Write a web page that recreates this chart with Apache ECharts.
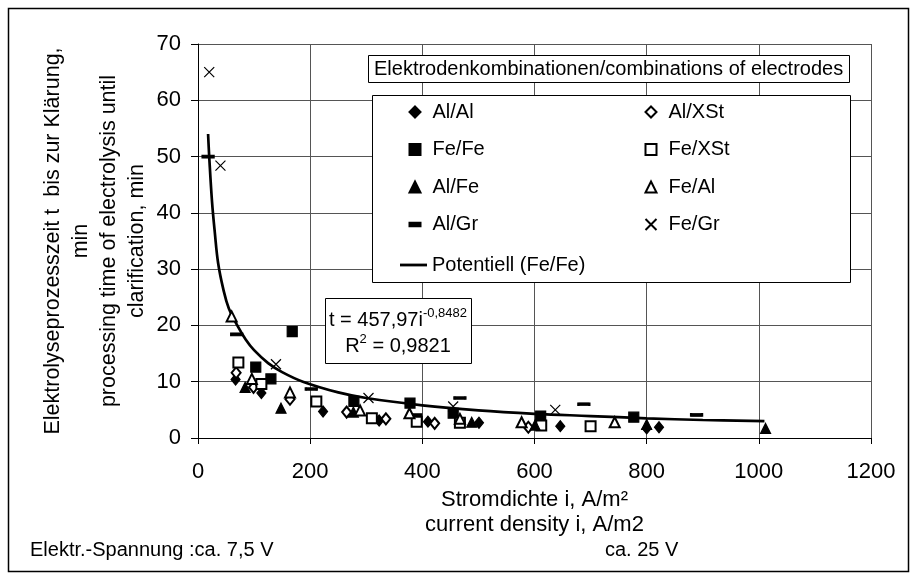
<!DOCTYPE html>
<html>
<head>
<meta charset="utf-8">
<script src="https://cdn.jsdelivr.net/npm/echarts@6/dist/echarts.min.js"></script>
<style>
html, body { margin: 0; padding: 0; background: #fff; }
#main { width: 917px; height: 579px; }
</style>
</head>
<body>
<div id="main"></div>
<script>
// Achsen
var xTicks = [0, 200, 400, 600, 800, 1000, 1200];
var yTicks = [0, 10, 20, 30, 40, 50, 60, 70];

// Messpunkte [Stromdichte, Zeit]
var alAl  = [[67, 10.4], [113, 8.0], [223, 4.7], [323, 3.1], [410, 2.9], [501, 2.7], [646, 2.1], [800, 1.7], [822, 1.9]];
var alXSt = [[68, 11.6], [99, 9.0], [164, 6.9], [265, 4.6], [335, 3.4], [422, 2.6], [589, 1.9]];
var feFe  = [[103, 12.6], [130, 10.5], [168, 18.9], [278, 6.5], [378, 6.2], [390, 3.4], [455, 4.4], [611, 3.9], [777, 3.7]];
var feXSt = [[72, 13.4], [113, 9.6], [211, 6.5], [310, 3.5], [390, 2.9], [467, 2.7], [612, 2.2], [700, 2.1]];
var alFe  = [[84, 9.0], [148, 5.3], [277, 4.6], [488, 2.8], [601, 2.3], [800, 2.4], [1012, 1.7]];
var feAl  = [[60, 21.6], [96, 10.5], [164, 8.1], [289, 4.9], [377, 4.4], [467, 3.4], [577, 2.8], [743, 2.8]];
var alGr  = [[18, 50], [69, 18.4], [202, 8.7], [467, 7.1], [688, 6.0], [889, 4.1]];
var feGr  = [[20, 65], [40, 48.4], [139, 13.1], [304, 7.1], [455, 5.6], [637, 5.0]];
// Trendlinie Potentiell (Fe/Fe)
var trendFeFe = [[18, 54], [20, 50], [25, 42], [30, 36.5], [36, 31], [45, 26.5], [55, 23], [70, 20],
    [85, 17.5], [100, 15.6], [125, 13.3], [150, 11.7], [187, 10], [250, 8.1], [300, 7.1], [400, 5.8],
    [500, 4.9], [600, 4.3], [700, 3.9], [800, 3.5], [900, 3.2], [1010, 3.0]];

var font = 'Liberation Sans, Arial, sans-serif';
var dashPath = 'path://M0,0L11,0L11,3L0,3Z';
var dashIcon = 'path://M0,0M0,3.5L10,3.5L10,6.5L0,6.5ZM10,10';
var lineIcon = 'path://M0,0M0,3.6L27,3.6L27,6.4L0,6.4ZM27,10';
var crossPath = 'path://M0,0L10,10M10,0L0,10';

function punkte(name, data, symbol, size) {
    return {
        name: name,
        type: 'scatter',
        data: data,
        symbol: symbol,
        symbolSize: size || 10,
        symbolKeepAspect: false,
        itemStyle: { color: '#000', borderColor: '#000', borderWidth: 1.2, opacity: 1 },
        emphasis: { disabled: true }
    };
}

function spalte(left, top, data) {
    return {
        orient: 'vertical',
        left: left,
        top: top,
        padding: 0,
        itemWidth: 11,
        itemHeight: 11,
        itemGap: 17.5,
        selectedMode: false,
        textStyle: { fontFamily: font, fontSize: 20, color: '#000', lineHeight: 20, padding: [0, 0, 0, 7] },
        data: data
    };
}

var myChart = echarts.init(document.getElementById('main'));
var option = {
    backgroundColor: '#fff',
    animation: false,
    title: {
        text: 'Elektrodenkombinationen/combinations of electrodes',
        left: 368,
        top: 55,
        padding: [4, 7, 4, 6],
        borderColor: '#000',
        borderWidth: 1,
        backgroundColor: '#fff',
        textStyle: { fontFamily: font, fontSize: 20, fontWeight: 'normal', color: '#000' }
    },
    legend: [
        spalte(408.5, 102, ['Al/Al', 'Fe/Fe', 'Al/Fe', { name: 'Al/Gr', icon: dashIcon }]),
        spalte(644.5, 102, ['Al/XSt', 'Fe/XSt', 'Fe/Al', 'Fe/Gr']),
        {
            left: 400, top: 255, padding: 0, itemWidth: 27, itemHeight: 10,
            selectedMode: false,
            textStyle: { fontFamily: font, fontSize: 20, color: '#000', lineHeight: 20 },
            data: [{ name: 'Potentiell (Fe/Fe)', icon: lineIcon, itemStyle: { color: '#000', borderWidth: 0 } }]
        }
    ],
    grid: { left: 198, right: 46, top: 44, bottom: 141, containLabel: false },
    xAxis: {
        type: 'value',
        min: xTicks[0],
        max: xTicks[xTicks.length - 1],
        interval: 200,
        name: 'Stromdichte i, A/m²\ncurrent density i, A/m2',
        nameLocation: 'middle',
        nameGap: 45,
        nameTextStyle: { fontFamily: font, fontSize: 22, color: '#000', lineHeight: 24.5 },
        axisLine: { lineStyle: { color: '#000', width: 1 } },
        axisTick: { show: true, length: 6, lineStyle: { color: '#000' } },
        axisLabel: {
            fontFamily: font, fontSize: 22, color: '#000', margin: 23,
            formatter: function (v) { return String(v); }
        },
        splitLine: { show: true, lineStyle: { color: '#555', width: 1 } }
    },
    yAxis: {
        type: 'value',
        min: yTicks[0],
        max: yTicks[yTicks.length - 1],
        interval: 10,
        name: 'Elektrolyseprozesszeit t  bis zur Klärung,\nmin\nprocessing time of electrolysis until\nclarification, min',
        nameLocation: 'middle',
        nameRotate: 90,
        nameGap: 47,
        nameMoveOverlap: false,
        nameTextStyle: { fontFamily: font, fontSize: 21.5, color: '#000', lineHeight: 28 },
        axisLine: { show: true, lineStyle: { color: '#000', width: 1 } },
        axisTick: { show: true, length: 7, lineStyle: { color: '#000' } },
        axisLabel: { fontFamily: font, fontSize: 22, color: '#000', margin: 17 },
        splitLine: { show: true, lineStyle: { color: '#555', width: 1 } }
    },
    graphic: [
        {
            type: 'rect', z: 3,
            shape: { x: 372.5, y: 95.5, width: 478, height: 187 },
            style: { fill: '#fff', stroke: '#000', lineWidth: 1 }
        },
        {
            type: 'rect', z: 3,
            shape: { x: 325.5, y: 298.5, width: 146, height: 65 },
            style: { fill: '#fff', stroke: '#000', lineWidth: 1 }
        },
        {
            type: 'text', z: 4, x: 398, y: 333,
            style: {
                text: 't = 457,97i{sup|-0,8482}\nR{sup|2} = 0,9821',
                fontFamily: font, fontSize: 20, fill: '#000', lineHeight: 26,
                align: 'center', verticalAlign: 'middle',
                rich: {
                    sup: { fontFamily: font, fontSize: 13, fill: '#000', verticalAlign: 'top', lineHeight: 26 }
                }
            }
        },
        {
            type: 'text', x: 30, y: 550,
            style: { text: 'Elektr.-Spannung :ca. 7,5 V', fontFamily: font, fontSize: 20, fill: '#000', verticalAlign: 'middle' }
        },
        {
            type: 'text', x: 605, y: 550,
            style: { text: 'ca. 25 V', fontFamily: font, fontSize: 20, fill: '#000', verticalAlign: 'middle' }
        },
        {
            type: 'rect', z: -1, silent: true,
            shape: { x: 8.5, y: 8.5, width: 900, height: 563 },
            style: { fill: 'none', stroke: '#000', lineWidth: 1.5 }
        }
    ],
    series: [
        punkte('Al/Al', alAl, 'diamond', [9, 11]),
        punkte('Al/XSt', alXSt, 'emptyDiamond', [9, 11]),
        punkte('Fe/Fe', feFe, 'rect', 10),
        punkte('Fe/XSt', feXSt, 'emptyRect', 10),
        punkte('Al/Fe', alFe, 'triangle', 10),
        punkte('Fe/Al', feAl, 'emptyTriangle', 10),
        punkte('Al/Gr', alGr, dashPath, [11, 3]),
        punkte('Fe/Gr', feGr, crossPath, 10),
        {
            name: 'Potentiell (Fe/Fe)',
            type: 'line',
            data: trendFeFe,
            smooth: 0.4,
            showSymbol: false,
            symbol: 'none',
            z: 1,
            lineStyle: { color: '#000', width: 2.7 },
            itemStyle: { color: '#000' },
            emphasis: { disabled: true }
        }
    ]
};
myChart.clear();
myChart.setOption(option);
</script>
</body>
</html>
